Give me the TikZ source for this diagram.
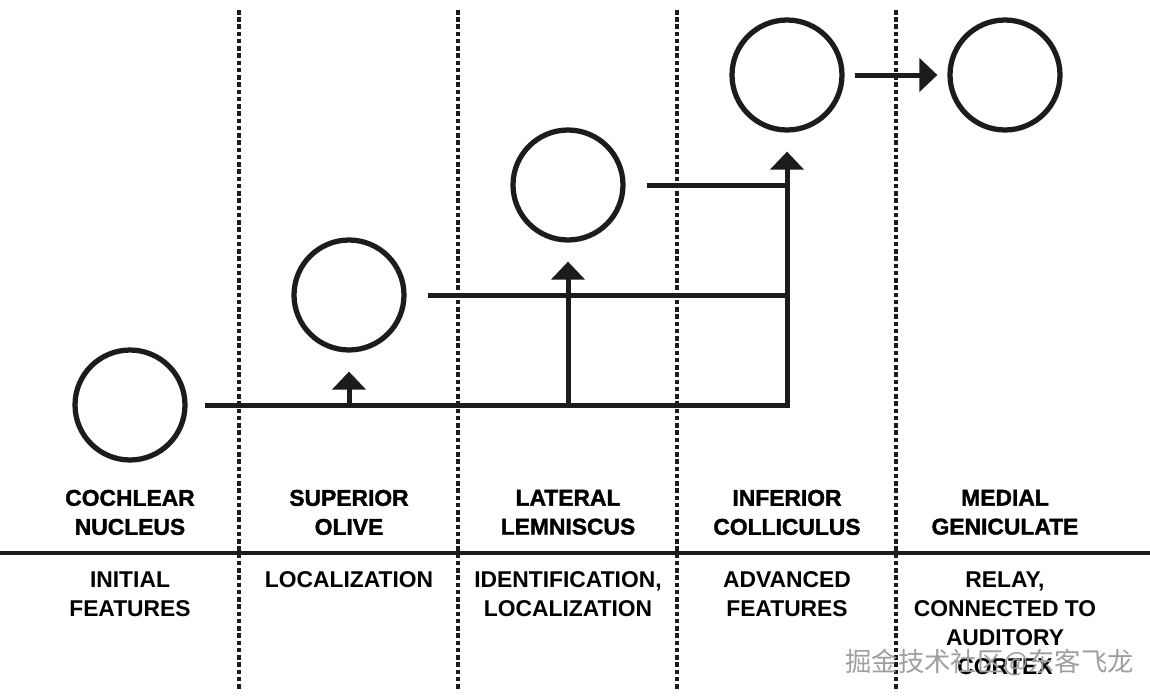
\documentclass[tikz,border=0pt]{standalone}
\usepackage{fontspec}
\setmainfont{Liberation Sans}
\newfontfamily\heavy[FakeBold=1.6]{Liberation Sans Bold}
\newfontfamily\cjk{Noto Sans CJK SC}
\usetikzlibrary{arrows.meta}
\definecolor{ink}{HTML}{1C1C1C}

\begin{document}
\begin{tikzpicture}[x=0.02cm,y=-0.02cm,
  nucleus/.style={circle,draw=ink,line width=0.105cm,minimum size=2.2cm,inner sep=0pt},
  link/.style={draw=ink,line width=0.1cm},
  arr/.style={link,-{Triangle[width=0.66cm,length=0.36cm]}},
  sep/.style={draw=ink,line width=0.075cm,dash pattern=on 0.09cm off 0.055cm},
  role/.style={align=center,anchor=north,inner sep=0pt,font=\fontsize{13}{16.5}\selectfont\bfseries},
  head/.style={role,font=\fontsize{13}{16.5}\selectfont\heavy}]
\fill[white](0,0)rectangle(1150,700);
\useasboundingbox(0,0)rectangle(1150,700);
% columns
\foreach \x in {239,458,677,896} \draw[sep](\x,10)--(\x,690);
\draw[ink,line width=0.08cm](0,553)--(1150,553);
% nuclei
\node[nucleus](cn)at(130,405){};
\node[nucleus](so)at(349,295){};
\node[nucleus](ll)at(568,185){};
\node[nucleus](ic)at(787,75){};
\node[nucleus](mg)at(1005,75){};
% pathways
\draw[arr]([xshift=0.35cm]cn.east)-|([yshift=-0.38cm]ic.south);
\draw[arr](so|-cn)--([yshift=-0.38cm]so.south);
\draw[arr](ll|-cn)--([yshift=-0.38cm]ll.south);
\draw[link]([xshift=0.43cm]so.east)--(ic|-so);
\draw[link]([xshift=0.43cm]ll.east)--(ic|-ll);
\draw[arr]([xshift=0.2cm]ic.east)--([xshift=-0.2cm]mg.west);
% names
\node[head](cn-name)at(130,489.5){COCHLEAR\\NUCLEUS};
\node[head](so-name)at(349,489.5){SUPERIOR\\OLIVE};
\node[head](ll-name)at(568,489.5){LATERAL\\LEMNISCUS};
\node[head](ic-name)at(787,489.5){INFERIOR\\COLLICULUS};
\node[head](mg-name)at(1005,489.5){MEDIAL\\GENICULATE};
% roles
\node[role](cn-role)at(130,571.5){INITIAL\\FEATURES};
\node[role](so-role)at(349,571.5){LOCALIZATION};
\node[role](ll-role)at(568,571.5){IDENTIFICATION,\\LOCALIZATION};
\node[role](ic-role)at(787,571.5){ADVANCED\\FEATURES};
\node[role](mg-role)at(1005,571.5){RELAY,\\CONNECTED TO\\AUDITORY\\CORTEX};
\node[anchor=west,inner sep=0pt,text=gray!75,font=\cjk\fontsize{15}{18}\selectfont](mark)at(845,663){掘金技术社区@东客飞龙};
\end{tikzpicture}
\end{document}
